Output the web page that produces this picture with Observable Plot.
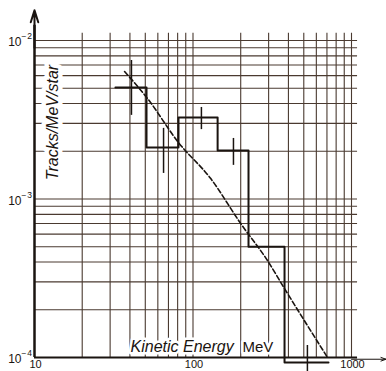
<!DOCTYPE html>
<html>
<head>
<meta charset="utf-8">
<script src="https://cdn.jsdelivr.net/npm/d3@7"></script>
<script src="https://cdn.jsdelivr.net/npm/@observablehq/plot@0.6"></script>
<style>
  html, body { margin: 0; padding: 0; background: #ffffff; }
  #chart svg { display: block; overflow: visible; }
</style>
</head>
<body>
<div id="chart"></div>
<script>
// Histogram bins (MeV) and values (Tracks/MeV/star)
const binEdges = [32.4, 50.9, 81, 143, 224, 378, 716];
const binValues = [5.05e-3, 2.11e-3, 3.27e-3, 2.02e-3, 5.0e-4, 0.93e-4];

// Error bars
const errX = [40.9, 65.2, 113, 180, 527];
const errLow = [3.37e-3, 1.45e-3, 2.74e-3, 1.63e-3, 0.75e-4];
const errHigh = [7.48e-3, 2.79e-3, 3.78e-3, 2.41e-3, 1.19e-4];

// Dashed theoretical curve
const curveX = [37, 51.6, 81, 129, 200, 295, 378, 706];
const curveY = [6.37e-3, 4.31e-3, 2.27e-3, 1.35e-3, 7.0e-4, 4.09e-4, 2.72e-4, 1.0e-4];

// Grid lines & tick labels
const gridX = [20, 30, 40, 50, 60, 70, 80, 90, 100, 200, 300, 400, 500, 600, 700, 800, 900, 1000];
const gridY = [2e-4, 3e-4, 4e-4, 5e-4, 6e-4, 7e-4, 8e-4, 9e-4, 1e-3,
               2e-3, 3e-3, 4e-3, 5e-3, 6e-3, 7e-3, 8e-3, 9e-3, 1e-2];
const xTicks = [10, 100, 1000];
const xTickLabels = ["10", "100", "1000"];
const yTicks = [1e-2, 1e-3, 1e-4];
const yTickBase = "10";
const yTickExp = ["\u2212\u200A2", "\u2212\u200A3", "\u2212\u200A4"];
const yLabel = "Tracks/MeV/star";
const xLabelItalic = "Kinetic Energy";
const xLabelUnit = "MeV";

const steps = binEdges.map((e, i) => ({x: e, y: binValues[Math.min(i, binValues.length - 1)]}));
const errors = errX.map((x, i) => ({x, lo: errLow[i], hi: errHigh[i]}));
const curve = curveX.map((x, i) => ({x, y: curveY[i]}));

const ink = "#1a1410";
const gridInk = "#4a3a30";
const font = "Liberation Sans, Arial, sans-serif";

const chart = Plot.plot({
  width: 386,
  height: 371,
  marginLeft: 34,
  marginRight: 35,
  marginTop: 40,
  marginBottom: 14,
  x: {type: "log", domain: [10, 1000], axis: null},
  y: {type: "log", domain: [1e-4, 1e-2], axis: null},
  style: {fontFamily: font, background: "#ffffff", overflow: "visible"},
  marks: [
    // grid
    Plot.ruleX(gridX, {x: d => d, y1: 0.0111, y2: 1e-4, stroke: gridInk, strokeWidth: 1.1}),
    Plot.ruleY(gridY, {y: d => d, x1: 10, x2: 1092, stroke: gridInk, strokeWidth: 1.1}),
    // axis label (x) with white halo
    Plot.text([xLabelItalic], {frameAnchor: "bottom-left", dx: 96, dy: -6, text: d => d,
      textAnchor: "start", fontSize: 16, fontStyle: "italic", fill: ink,
      stroke: "white", strokeWidth: 5, strokeLinejoin: "round"}),
    Plot.text([xLabelUnit], {frameAnchor: "bottom-left", dx: 208, dy: -6, text: d => d,
      textAnchor: "start", fontSize: 15, fill: ink,
      stroke: "white", strokeWidth: 5, strokeLinejoin: "round"}),
    // y label rotated
    Plot.text([yLabel], {frameAnchor: "top-left", dx: 18, dy: 82, text: d => d, rotate: -90,
      textAnchor: "middle", lineAnchor: "middle",
      fontSize: 16, fontStyle: "italic", fill: ink,
      stroke: "white", strokeWidth: 9, strokeLinejoin: "round"}),
    // axes
    Plot.ruleX([10], {y1: 1e-4, y2: 0.0125, stroke: ink, strokeWidth: 2.5}),
    Plot.arrow([0], {x1: 10, y1: 0.009, x2: 10, y2: 0.0155, stroke: ink, strokeWidth: 2, headLength: 10, headAngle: 35}),
    Plot.ruleY([1e-4], {x1: 10, x2: 1092, stroke: ink, strokeWidth: 2.2}),
    Plot.arrow([0], {x1: 1000, y1: 0.975e-4, x2: 1650, y2: 0.975e-4, stroke: ink, strokeWidth: 1, headLength: 8, headAngle: 40}),
    // dashed curve
    Plot.line(curve, {x: "x", y: "y", curve: "monotone-x", stroke: ink, strokeWidth: 1.6, strokeDasharray: "5,2.5"}),
    // histogram
    Plot.line(steps, {x: "x", y: "y", curve: "step-after", stroke: ink, strokeWidth: 2}),
    // error bars
    Plot.ruleX(errors, {x: "x", y1: "lo", y2: "hi", stroke: ink, strokeWidth: 1.5}),
    // tick labels (y): base "10" plus raised exponent
    Plot.text(yTicks, {y: d => d, text: () => yTickBase, frameAnchor: "left", dx: -13, dy: 2,
      textAnchor: "end", fontSize: 12, fill: ink}),
    Plot.text(yTicks, {y: d => d, text: (d, i) => yTickExp[i], frameAnchor: "left", dx: -13, dy: -4,
      textAnchor: "start", fontSize: 8.5, fill: ink}),
    // tick labels (x)
    Plot.text(xTicks, {x: d => d, text: (d, i) => xTickLabels[i], frameAnchor: "bottom", dy: 10, dx: 1,
      fontSize: 11, fill: ink})
  ]
});

document.getElementById("chart").appendChild(chart);
</script>
</body>
</html>
